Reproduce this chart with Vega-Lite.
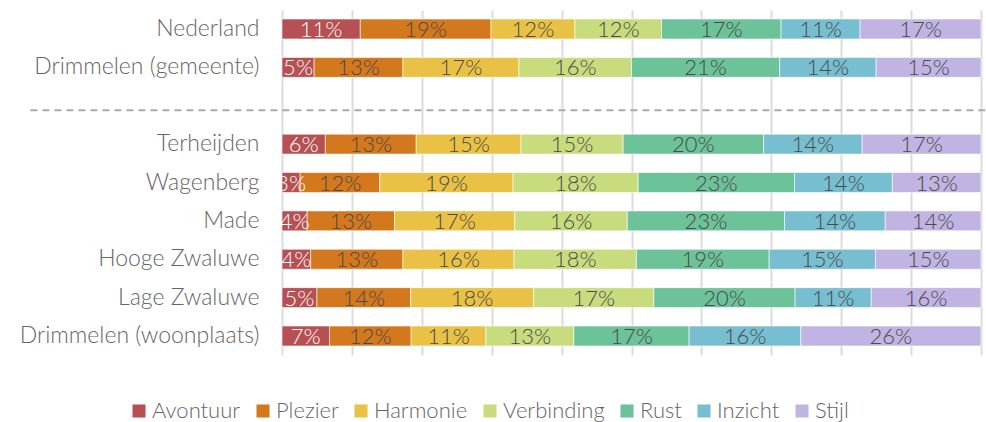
{
  "$schema": "https://vega.github.io/schema/vega-lite/v6.json",
  "width": 699,
  "height": 345,
  "autosize": {"type": "none"},
  "padding": {"left": 282, "top": 10, "right": 5, "bottom": 67},
  "background": "white",
  "config": {
    "view": {"stroke": null},
    "font": "Lato",
    "axis": {"labelFont": "Lato", "labelFontWeight": 300},
    "legend": {"labelFont": "Lato", "labelFontWeight": 300}
  },
  "datasets": {
    "shares": [
      {"region": "Nederland", "category": "Avontuur", "value": 11.2, "label": "11%"},
      {"region": "Nederland", "category": "Plezier", "value": 18.7, "label": "19%"},
      {"region": "Nederland", "category": "Harmonie", "value": 12.0, "label": "12%"},
      {"region": "Nederland", "category": "Verbinding", "value": 12.4, "label": "12%"},
      {"region": "Nederland", "category": "Rust", "value": 17.1, "label": "17%"},
      {"region": "Nederland", "category": "Inzicht", "value": 11.3, "label": "11%"},
      {"region": "Nederland", "category": "Stijl", "value": 17.3, "label": "17%"},
      {"region": "Drimmelen (gemeente)", "category": "Avontuur", "value": 4.6, "label": "5%"},
      {"region": "Drimmelen (gemeente)", "category": "Plezier", "value": 12.7, "label": "13%"},
      {"region": "Drimmelen (gemeente)", "category": "Harmonie", "value": 16.6, "label": "17%"},
      {"region": "Drimmelen (gemeente)", "category": "Verbinding", "value": 16.1, "label": "16%"},
      {"region": "Drimmelen (gemeente)", "category": "Rust", "value": 21.2, "label": "21%"},
      {"region": "Drimmelen (gemeente)", "category": "Inzicht", "value": 13.8, "label": "14%"},
      {"region": "Drimmelen (gemeente)", "category": "Stijl", "value": 15.0, "label": "15%"},
      {"region": "Terheijden", "category": "Avontuur", "value": 6.2, "label": "6%"},
      {"region": "Terheijden", "category": "Plezier", "value": 13.0, "label": "13%"},
      {"region": "Terheijden", "category": "Harmonie", "value": 15.0, "label": "15%"},
      {"region": "Terheijden", "category": "Verbinding", "value": 14.6, "label": "15%"},
      {"region": "Terheijden", "category": "Rust", "value": 20.1, "label": "20%"},
      {"region": "Terheijden", "category": "Inzicht", "value": 14.1, "label": "14%"},
      {"region": "Terheijden", "category": "Stijl", "value": 17.0, "label": "17%"},
      {"region": "Wagenberg", "category": "Avontuur", "value": 2.6, "label": "3%"},
      {"region": "Wagenberg", "category": "Plezier", "value": 11.4, "label": "12%"},
      {"region": "Wagenberg", "category": "Harmonie", "value": 19.1, "label": "19%"},
      {"region": "Wagenberg", "category": "Verbinding", "value": 17.9, "label": "18%"},
      {"region": "Wagenberg", "category": "Rust", "value": 22.4, "label": "23%"},
      {"region": "Wagenberg", "category": "Inzicht", "value": 14.0, "label": "14%"},
      {"region": "Wagenberg", "category": "Stijl", "value": 12.7, "label": "13%"},
      {"region": "Made", "category": "Avontuur", "value": 3.6, "label": "4%"},
      {"region": "Made", "category": "Plezier", "value": 12.5, "label": "13%"},
      {"region": "Made", "category": "Harmonie", "value": 17.2, "label": "17%"},
      {"region": "Made", "category": "Verbinding", "value": 16.1, "label": "16%"},
      {"region": "Made", "category": "Rust", "value": 22.5, "label": "23%"},
      {"region": "Made", "category": "Inzicht", "value": 14.4, "label": "14%"},
      {"region": "Made", "category": "Stijl", "value": 13.7, "label": "14%"},
      {"region": "Hooge Zwaluwe", "category": "Avontuur", "value": 4.1, "label": "4%"},
      {"region": "Hooge Zwaluwe", "category": "Plezier", "value": 13.2, "label": "13%"},
      {"region": "Hooge Zwaluwe", "category": "Harmonie", "value": 15.9, "label": "16%"},
      {"region": "Hooge Zwaluwe", "category": "Verbinding", "value": 17.5, "label": "18%"},
      {"region": "Hooge Zwaluwe", "category": "Rust", "value": 19.0, "label": "19%"},
      {"region": "Hooge Zwaluwe", "category": "Inzicht", "value": 15.2, "label": "15%"},
      {"region": "Hooge Zwaluwe", "category": "Stijl", "value": 15.1, "label": "15%"},
      {"region": "Lage Zwaluwe", "category": "Avontuur", "value": 5.0, "label": "5%"},
      {"region": "Lage Zwaluwe", "category": "Plezier", "value": 13.4, "label": "14%"},
      {"region": "Lage Zwaluwe", "category": "Harmonie", "value": 17.6, "label": "18%"},
      {"region": "Lage Zwaluwe", "category": "Verbinding", "value": 17.2, "label": "17%"},
      {"region": "Lage Zwaluwe", "category": "Rust", "value": 20.2, "label": "20%"},
      {"region": "Lage Zwaluwe", "category": "Inzicht", "value": 10.9, "label": "11%"},
      {"region": "Lage Zwaluwe", "category": "Stijl", "value": 15.7, "label": "16%"},
      {"region": "Drimmelen (woonplaats)", "category": "Avontuur", "value": 6.8, "label": "7%"},
      {"region": "Drimmelen (woonplaats)", "category": "Plezier", "value": 11.7, "label": "12%"},
      {"region": "Drimmelen (woonplaats)", "category": "Harmonie", "value": 10.7, "label": "11%"},
      {"region": "Drimmelen (woonplaats)", "category": "Verbinding", "value": 12.6, "label": "13%"},
      {"region": "Drimmelen (woonplaats)", "category": "Rust", "value": 16.5, "label": "17%"},
      {"region": "Drimmelen (woonplaats)", "category": "Inzicht", "value": 16.0, "label": "16%"},
      {"region": "Drimmelen (woonplaats)", "category": "Stijl", "value": 25.8, "label": "26%"}
    ]
  },
  "layer": [
    {
      "data": {"name": "shares"},
      "transform": [
        {"stack": "value", "groupby": ["region"], "offset": "normalize", "as": ["v0", "v1"]}
      ],
      "mark": {"type": "bar", "stroke": "white", "strokeWidth": 0.6},
      "encoding": {
        "y": {
          "field": "region",
          "type": "nominal",
          "title": null,
          "scale": {
            "domain": ["Nederland", "Drimmelen (gemeente)", " ", "Terheijden", "Wagenberg", "Made", "Hooge Zwaluwe", "Lage Zwaluwe", "Drimmelen (woonplaats)"],
            "paddingInner": 0.48,
            "paddingOuter": 0.235
          },
          "axis": {
            "ticks": false,
            "domain": false,
            "grid": false,
            "labelPadding": 23,
            "labelFontSize": 23,
            "labelLimit": 400,
            "labelColor": "#666666"
          }
        },
        "x": {
          "field": "v0",
          "type": "quantitative",
          "title": null,
          "scale": {"domain": [0, 1], "nice": false, "zero": false},
          "axis": {
            "values": [0, 0.1, 0.2, 0.3, 0.4, 0.5, 0.6, 0.7, 0.8, 0.9, 1],
            "labels": false,
            "ticks": false,
            "domain": false,
            "grid": true,
            "gridColor": "#dcdcdc",
            "gridWidth": 2
          }
        },
        "x2": {"field": "v1"},
        "color": {
          "field": "category",
          "type": "nominal",
          "title": null,
          "scale": {
            "domain": ["Avontuur", "Plezier", "Harmonie", "Verbinding", "Rust", "Inzicht", "Stijl"],
            "range": ["#b65052", "#d4781e", "#e9c245", "#c8dc7e", "#6cc299", "#76bed0", "#c1b4e2"]
          },
          "legend": {
            "orient": "none",
            "direction": "horizontal",
            "legendX": -154,
            "legendY": 390,
            "symbolType": "square",
            "symbolSize": 170,
            "symbolStrokeWidth": 0,
            "labelFontSize": 22,
            "labelColor": "#666666",
            "columnPadding": 11,
            "labelOffset": 2
          }
        }
      }
    },
    {
      "data": {"name": "shares"},
      "transform": [
        {"stack": "value", "groupby": ["region"], "offset": "normalize", "as": ["v0", "v1"]},
        {"calculate": "(datum.v0 + datum.v1) / 2", "as": "mid"}
      ],
      "mark": {"type": "text", "fontSize": 22, "fontWeight": 300, "baseline": "middle", "align": "center", "dy": 1},
      "encoding": {
        "y": {"field": "region", "type": "nominal"},
        "x": {"field": "mid", "type": "quantitative"},
        "text": {"field": "label"},
        "color": {
          "condition": {"test": "datum.category === 'Avontuur'", "value": "#ffffff"},
          "value": "#4a4a4a"
        }
      }
    },
    {
      "data": {"values": [{}]},
      "mark": {"type": "rule", "strokeDash": [7, 5], "strokeWidth": 2, "color": "#aaaaaa"},
      "encoding": {
        "y": {"datum": " ", "type": "nominal", "bandPosition": 0.73},
        "x": {"datum": -0.36, "type": "quantitative"},
        "x2": {"datum": 1.006}
      }
    }
  ]
}
